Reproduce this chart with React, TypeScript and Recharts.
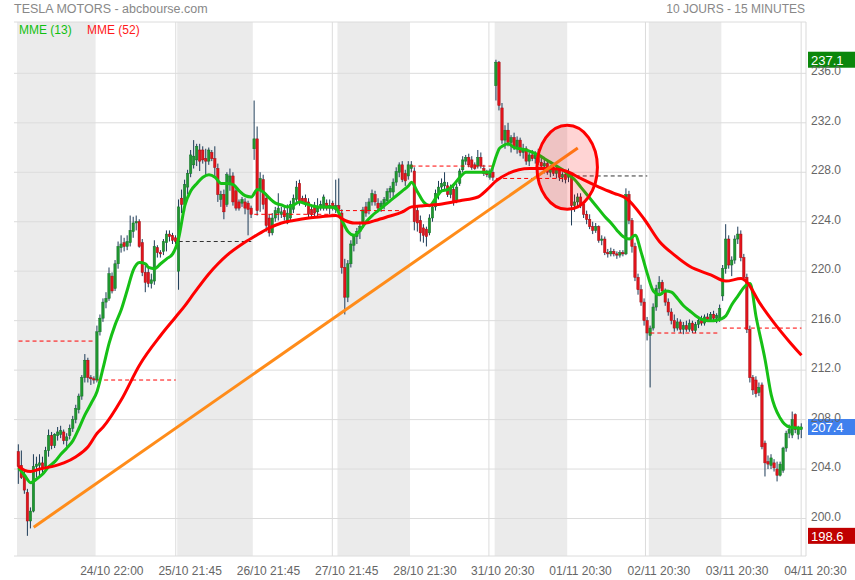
import React from 'react';
import { ComposedChart, Bar, Line, XAxis, YAxis, CartesianGrid, ReferenceArea, ReferenceLine } from 'recharts';

const FONT = '"Liberation Sans", Arial, sans-serif';

// OHLC per 15-minute bar, one array per trading day: [open, high, low, close]
const day1 = [
  [205.4, 206.0, 202.8, 204.2], [204.3, 205.5, 203.2, 203.3], [203.4, 203.9, 202.0, 202.3], [202.1, 202.4, 198.6, 199.8],
  [199.8, 200.9, 199.2, 200.6], [200.6, 205.2, 200.5, 204.2], [204.2, 205.0, 203.3, 204.4], [204.3, 205.2, 203.4, 204.5],
  [204.5, 205.0, 203.6, 204.1], [204.2, 205.8, 203.8, 205.5], [205.5, 207.2, 205.0, 206.7], [206.7, 207.0, 205.6, 205.9],
  [205.9, 206.9, 205.7, 206.8], [206.7, 207.4, 206.3, 207.0], [206.8, 207.5, 206.5, 207.1], [207.0, 207.2, 206.0, 206.3],
  [206.3, 206.9, 205.8, 206.6], [206.7, 207.6, 206.4, 207.3], [207.3, 208.3, 207.0, 208.0], [208.0, 209.2, 207.7, 208.9],
  [208.8, 210.1, 208.5, 209.9], [209.9, 211.6, 209.6, 211.4], [211.4, 213.3, 211.0, 212.8], [212.8, 213.0, 211.0, 211.4],
  [211.4, 211.6, 210.8, 211.3], [211.3, 211.5, 210.9, 211.2],
];
const day2 = [
  [211.2, 215.6, 211.0, 215.1], [215.1, 216.5, 214.8, 216.2], [216.2, 217.8, 215.9, 217.5], [217.5, 218.3, 217.0, 217.8],
  [217.8, 220.3, 217.6, 219.8], [219.6, 219.9, 218.2, 218.4], [218.6, 220.9, 218.4, 220.6], [220.6, 222.4, 220.2, 222.0],
  [221.9, 222.9, 221.5, 222.2], [222.3, 222.7, 221.6, 222.0], [222.0, 222.9, 221.7, 222.4], [222.3, 224.5, 222.0, 223.3],
  [223.2, 224.4, 222.7, 223.9], [223.9, 224.5, 223.3, 224.0], [224.0, 224.2, 221.9, 222.0], [222.3, 222.6, 219.6, 219.9],
  [219.9, 220.6, 218.3, 219.1], [219.9, 220.3, 218.7, 219.0], [219.0, 219.8, 218.6, 219.3], [219.2, 222.5, 218.9, 222.0],
  [221.9, 222.1, 221.1, 221.5], [221.5, 221.7, 221.1, 221.4], [221.6, 222.6, 221.3, 222.4], [222.3, 223.3, 221.6, 223.0],
  [223.0, 223.3, 222.4, 222.8], [222.9, 223.1, 222.2, 222.5], [222.7, 222.9, 222.2, 222.4],
];
const day3 = [
  [220.0, 225.8, 218.5, 225.2], [225.9, 226.6, 224.7, 225.4], [225.4, 227.4, 224.8, 227.0], [226.8, 228.2, 226.2, 227.9],
  [227.9, 229.8, 227.6, 229.4], [228.6, 230.6, 228.3, 229.3], [229.0, 230.3, 228.5, 230.1], [229.8, 230.3, 228.1, 228.9],
  [229.8, 230.1, 228.7, 229.0], [229.1, 229.9, 227.8, 228.9], [228.9, 230.0, 228.6, 229.8], [229.6, 229.8, 228.9, 229.1],
  [229.1, 230.1, 227.6, 228.4], [228.3, 228.7, 225.6, 226.2], [225.8, 226.5, 225.2, 226.2], [226.2, 226.6, 224.2, 224.8],
  [225.4, 228.0, 225.2, 227.8], [227.1, 228.3, 226.5, 227.7], [227.7, 228.0, 225.3, 225.6], [226.5, 226.9, 224.9, 225.1],
  [225.6, 225.8, 224.9, 225.1], [225.5, 226.0, 225.2, 225.8], [225.6, 225.9, 224.6, 225.1], [225.5, 225.7, 222.9, 225.0],
  [225.1, 225.3, 224.3, 224.6],
];
const day4 = [
  [229.9, 233.8, 229.0, 230.7], [230.7, 231.7, 224.5, 224.9], [226.6, 228.0, 224.8, 227.5], [227.4, 227.8, 225.0, 225.4],
  [225.9, 226.3, 223.2, 223.7], [224.3, 224.6, 222.8, 223.1], [223.1, 224.7, 222.9, 224.3], [224.3, 225.2, 224.0, 224.9],
  [224.7, 226.3, 224.1, 225.1], [224.6, 225.2, 224.3, 224.8], [224.9, 225.3, 224.1, 224.4], [223.9, 225.4, 223.8, 224.7],
  [224.3, 225.7, 224.0, 225.4], [225.0, 226.2, 224.7, 225.9], [225.8, 227.3, 225.6, 226.8], [227.1, 227.4, 225.3, 225.6],
  [225.9, 226.1, 225.5, 225.6], [225.9, 226.2, 225.2, 225.4], [225.6, 225.9, 224.3, 224.6], [225.0, 225.3, 224.4, 224.6],
  [225.2, 225.6, 224.4, 224.7], [224.8, 225.9, 224.4, 225.1], [225.1, 225.7, 224.9, 225.4], [225.1, 226.2, 224.9, 226.0],
  [225.5, 225.8, 224.9, 225.1], [225.1, 225.8, 224.6, 225.3], [225.5, 225.7, 224.9, 225.1], [225.0, 227.4, 224.7, 225.3],
];
const day5 = [
  [225.3, 227.5, 224.8, 225.0], [224.7, 225.0, 219.8, 220.3], [220.3, 221.0, 216.5, 217.9], [217.9, 220.9, 217.5, 220.6],
  [220.6, 222.5, 220.3, 222.2], [222.1, 223.0, 221.6, 222.8], [222.8, 223.5, 222.2, 223.2], [223.2, 224.0, 222.6, 223.6],
  [223.9, 225.2, 223.5, 224.95], [225.2, 225.6, 224.4, 224.7], [224.9, 225.9, 224.6, 225.6], [225.6, 226.6, 225.3, 226.3],
  [226.2, 226.5, 225.3, 225.6], [225.5, 225.9, 224.9, 225.1], [225.2, 225.7, 224.8, 225.5], [225.4, 226.0, 225.0, 225.8],
  [225.7, 226.7, 225.4, 226.45], [226.4, 226.9, 225.9, 226.7], [226.4, 227.5, 226.0, 227.2], [227.2, 228.4, 226.9, 228.05],
  [228.0, 228.8, 227.6, 228.6], [228.6, 228.9, 227.2, 227.4], [227.9, 228.2, 226.9, 227.3], [227.7, 228.9, 227.4, 228.6],
];
const day6 = [
  [228.3, 228.9, 228.0, 228.6], [228.1, 228.4, 223.3, 224.0], [224.9, 225.2, 223.2, 223.9], [224.1, 224.5, 222.4, 223.1],
  [223.5, 223.8, 222.3, 222.9], [223.4, 223.6, 222.0, 222.8], [223.1, 224.6, 222.9, 224.3], [224.3, 225.4, 224.0, 225.2],
  [225.2, 226.6, 224.9, 226.3], [226.3, 227.3, 225.8, 226.8], [226.8, 227.5, 226.5, 227.1], [226.9, 228.0, 226.6, 227.2],
  [226.9, 227.2, 226.0, 226.2], [226.2, 227.0, 225.9, 226.7], [226.6, 226.9, 225.3, 225.6], [225.7, 227.1, 225.5, 226.8],
  [227.1, 228.3, 226.9, 228.1], [228.2, 229.3, 228.0, 229.0], [228.9, 229.4, 228.6, 229.2], [229.2, 229.5, 228.4, 228.6],
  [229.0, 229.3, 228.2, 228.4], [228.6, 228.8, 228.2, 228.3], [228.5, 229.8, 228.3, 229.2], [229.2, 229.6, 228.3, 228.5],
  [228.3, 228.6, 227.7, 227.9], [227.9, 228.2, 227.6, 227.8], [227.6, 228.3, 227.4, 228.1], [228.0, 228.4, 227.3, 227.6],
];
const day7 = [
  [235.0, 237.1, 233.8, 236.9], [236.9, 237.0, 233.0, 233.4], [233.2, 233.6, 230.3, 230.6], [230.6, 231.8, 229.9, 231.4],
  [231.4, 232.0, 230.1, 230.4], [230.4, 231.0, 229.6, 230.8], [230.8, 231.2, 229.8, 230.0], [230.0, 230.9, 229.5, 230.6],
  [230.6, 230.8, 229.3, 229.6], [229.6, 230.3, 229.1, 229.9], [229.9, 230.1, 228.6, 228.9], [228.9, 229.6, 228.5, 229.4],
  [229.4, 229.8, 228.9, 229.1], [229.1, 229.7, 228.7, 229.5], [229.5, 229.9, 228.6, 228.8], [228.8, 229.2, 228.2, 228.5],
  [228.5, 229.0, 227.9, 228.7], [228.7, 229.0, 227.8, 228.0], [228.0, 228.6, 227.6, 228.4], [228.4, 228.7, 227.7, 227.9],
  [227.9, 228.5, 227.5, 228.2], [228.2, 228.4, 227.3, 227.6], [227.6, 228.0, 227.2, 227.8], [227.8, 228.1, 227.1, 227.4],
];
const day8 = [
  [227.6, 228.3, 227.2, 227.9], [227.9, 228.0, 223.7, 225.3], [225.3, 226.2, 224.8, 225.6], [225.6, 226.3, 225.2, 226.0],
  [226.0, 226.3, 225.1, 225.4], [225.4, 225.6, 224.3, 224.6], [224.6, 224.9, 223.8, 224.2], [224.2, 224.6, 223.4, 223.6],
  [223.6, 224.0, 223.0, 223.3], [223.3, 223.9, 223.1, 223.6], [223.6, 223.7, 222.3, 222.5], [222.5, 222.9, 222.1, 222.6],
  [222.6, 222.8, 221.3, 221.5], [221.5, 221.8, 221.1, 221.4], [221.4, 221.9, 221.2, 221.6], [221.6, 221.8, 221.2, 221.4],
  [221.4, 221.6, 221.0, 221.3], [221.3, 221.7, 221.1, 221.5], [221.5, 221.7, 221.2, 221.4], [221.4, 226.7, 221.3, 226.2],
  [226.2, 226.5, 223.8, 224.1], [224.1, 224.3, 221.5, 222.0], [222.0, 222.3, 219.2, 219.5], [219.5, 219.8, 218.1, 218.5],
  [218.5, 218.9, 217.2, 217.5], [217.5, 217.8, 215.6, 216.0], [216.0, 216.3, 214.4, 215.0],
];
const day9 = [
  [214.8, 215.6, 210.6, 215.4], [215.4, 217.4, 215.2, 217.1], [217.1, 218.9, 216.8, 218.6], [218.6, 219.6, 218.2, 219.1],
  [219.1, 219.3, 218.1, 218.4], [218.4, 218.6, 217.2, 217.5], [217.5, 217.8, 216.4, 216.7], [216.7, 217.0, 215.7, 216.0],
  [216.0, 216.5, 215.1, 215.4], [215.4, 216.2, 215.2, 215.9], [215.9, 216.1, 215.0, 215.3], [215.3, 215.9, 214.9, 215.6],
  [215.6, 216.0, 215.1, 215.3], [215.3, 216.1, 215.1, 215.8], [215.8, 216.0, 215.0, 215.2], [215.2, 215.9, 215.0, 215.7],
  [215.7, 216.2, 215.4, 216.0], [216.0, 216.4, 215.6, 215.8], [215.8, 216.5, 215.6, 216.3], [216.3, 216.6, 215.9, 216.1],
  [216.1, 216.7, 215.9, 216.5], [216.5, 216.8, 216.0, 216.2], [216.2, 216.6, 215.8, 216.4], [216.1, 217.3, 215.9, 217.0],
];
const day10 = [
  [218.0, 220.5, 217.6, 220.2], [220.2, 223.8, 219.8, 222.6], [222.6, 222.9, 220.2, 220.5], [220.5, 221.2, 219.6, 220.9],
  [220.9, 222.9, 220.6, 222.6], [222.6, 223.6, 222.2, 223.0], [223.0, 223.3, 220.8, 221.1], [221.1, 221.4, 219.2, 219.5],
  [219.5, 219.8, 215.0, 215.3], [215.3, 215.6, 211.0, 211.4], [211.4, 211.6, 210.0, 210.4], [211.2, 211.5, 209.8, 210.1],
  [210.2, 211.0, 209.9, 210.6], [210.8, 211.0, 205.6, 205.8], [206.1, 206.3, 203.4, 204.5], [204.6, 205.1, 204.0, 204.4],
  [204.3, 205.2, 204.0, 204.9], [204.5, 204.8, 203.8, 204.1], [204.0, 204.6, 203.0, 203.5], [203.5, 204.6, 203.4, 204.4],
  [203.9, 205.8, 203.7, 205.7], [205.7, 207.1, 205.4, 206.9], [206.9, 207.6, 206.5, 207.2], [206.75, 208.65, 206.5, 208.0],
  [208.4, 208.5, 206.9, 207.2], [206.8, 207.5, 206.4, 207.3], [207.2, 207.7, 206.5, 207.4],
];
const dayBars = [day1, day2, day3, day4, day5, day6, day7, day8, day9, day10];

// Previous-close reference level drawn on each day
const prevClose = [214.35, 211.2, 222.4, 224.6, 224.9, 228.5, 227.5, 227.7, 215.0, 215.4];
const prevCloseColor = ['#ff0000', '#ff0000', '#333333', '#ff0000', '#ff0000', '#ff0000', '#ff0000', '#333333', '#ff0000', '#ff0000'];

// Moving averages: [bar slot, value]
const ema13Points = [
  [1, 204.1], [3, 203.5], [5, 202.9], [7, 203.2], [9, 203.6], [11, 204.2], [13, 204.6], [15, 205.2], [17, 205.7],
  [19, 206.3], [21, 207.3], [23, 208.4], [25, 209.3], [27, 210.3], [29, 212.2], [31, 214.2], [33, 215.7], [35, 216.9],
  [37, 218.5], [39, 220.1], [41, 220.7], [43, 220.6], [44, 220.3], [46, 220.2], [48, 220.6], [50, 221.0], [52, 221.4],
  [54, 222.7], [56, 225.3], [58, 226.5], [60, 227.1], [62, 227.6], [64, 227.8], [66, 227.6], [68, 227.1], [70, 227.1],
  [72, 227.0], [74, 226.5], [76, 226.1], [78, 226.0], [80, 226.6], [82, 226.4], [84, 225.9], [86, 225.5], [88, 225.35],
  [90, 225.2], [92, 225.35], [94, 225.6], [96, 225.45], [98, 225.3], [100, 225.2], [102, 225.2], [104, 225.2],
  [106, 225.1], [108, 224.1], [110, 223.2], [112, 222.9], [114, 223.3], [116, 224.0], [118, 224.5], [120, 224.9],
  [122, 225.3], [124, 225.7], [126, 226.1], [128, 226.5], [130, 226.9], [131, 227.2], [133, 226.4], [135, 225.6],
  [137, 225.3], [139, 225.9], [141, 226.5], [143, 226.6], [145, 227.0], [147, 227.6], [149, 228.0], [151, 228.0],
  [153, 228.0], [155, 228.0], [157, 228.0], [159, 229.3], [160, 229.9], [161, 230.1], [163, 230.3], [165, 230.0],
  [167, 229.9], [169, 229.8], [171, 229.6], [173, 229.4], [175, 229.1], [177, 228.8], [179, 228.5], [181, 228.2],
  [183, 227.8], [185, 227.4], [187, 226.8], [189, 226.2], [191, 225.6], [193, 225.0], [195, 224.4], [197, 223.9],
  [199, 223.3], [201, 222.8], [203, 222.6], [205, 222.9], [207, 221.5], [209, 219.8], [211, 218.4], [213, 218.1],
  [215, 218.4], [217, 218.3], [219, 217.8], [221, 217.2], [223, 216.8], [225, 216.4], [227, 216.1], [229, 216.0],
  [231, 216.0], [233, 216.1], [235, 216.4], [237, 217.3], [239, 218.0], [241, 218.7], [243, 219.0], [245, 216.3],
  [248, 212.8], [250, 210.0], [253, 208.1], [256, 207.4], [260, 207.3],
];
const ema52Points = [
  [1, 204.2], [3, 203.9], [5, 203.8], [8, 204.0], [12, 204.2], [16, 204.5], [20, 205.0], [24, 205.8], [27, 206.9],
  [29, 207.4], [35, 209.6], [41, 212.4], [48, 214.8], [53, 216.3], [56, 217.2], [59, 218.2], [64, 219.8], [67, 220.6],
  [70, 221.3], [75, 222.2], [79, 222.8], [84, 223.5], [88, 223.9], [92, 224.1], [97, 224.3], [101, 224.4], [106, 224.5],
  [109, 224.1], [112, 223.9], [116, 223.9], [119, 224.1], [123, 224.4], [128, 224.8], [131, 225.2], [135, 225.3],
  [140, 225.4], [147, 225.7], [153, 226.0], [156, 226.6], [159, 227.3], [163, 227.9], [170, 228.3], [177, 228.3],
  [182, 228.1], [187, 227.5], [193, 226.8], [198, 226.3], [202, 225.9], [208, 224.2], [213, 222.4], [218, 221.3],
  [223, 220.4], [230, 219.7], [235, 219.2], [240, 219.4], [242, 219.1], [246, 217.5], [251, 215.8], [256, 214.3],
  [260, 213.2],
];

const trendLine = [{ slot: 6, value: 199.3 }, { slot: 186, value: 229.96 }];
const highlight = { x1: 173, x2: 192, y1: 225.0, y2: 231.8 };
const badges = [
  { value: 237.1, color: '#0b870b' },
  { value: 207.4, color: '#3f80ee' },
  { value: 198.6, color: '#c00000' },
];
const yTicks = [200, 204, 208, 212, 216, 220, 224, 228, 232, 236];
const xLabels = ['24/10 22:00', '25/10 21:45', '26/10 21:45', '27/10 21:45', '28/10 21:30', '31/10 20:30', '01/11 20:30', '02/11 20:30', '03/11 20:30', '04/11 20:30'];
const xLabelTicks = [21.8, 47.6, 73.4, 99.2, 125.0, 150.6, 176.4, 202.2, 228.0, 253.8];
const gridX = [53.3, 104.9, 156.5, 208.1, 259.4];

const SLOT_COUNT = 262;
const Y_MIN = 196.97;
const Y_MAX = 240.15;
const PLOT_BOTTOM = 556;

type Row = { i: number; o?: number; h?: number; l?: number; c?: number; ema13?: number; ema52?: number };
const data: Row[] = Array.from({ length: SLOT_COUNT }, (_, i) => ({ i }));
const dayRanges: [number, number][] = [];
let cursor = 1;
dayBars.forEach((bars) => {
  const start = cursor;
  bars.forEach(([o, h, l, c]) => {
    Object.assign(data[cursor], { o, h, l, c });
    cursor++;
  });
  dayRanges.push([start, cursor - 1]);
});
ema13Points.forEach(([s, v]) => { data[s].ema13 = v; });
ema52Points.forEach(([s, v]) => { data[s].ema52 = v; });

const Candle = (props: any) => {
  const { x, y, width, height, payload } = props;
  if (!payload || payload.h == null || x == null) return <g />;
  const { o, h, l, c } = payload;
  const top = Math.min(y, y + height);
  const hgt = Math.abs(height);
  const k = h > l ? hgt / (h - l) : 0;
  const cx = x + width / 2;
  const yO = top + (h - o) * k;
  const yC = top + (h - c) * k;
  const up = c >= o;
  const bTop = Math.min(yO, yC);
  const bH = Math.max(Math.abs(yO - yC), 1);
  return (
    <g>
      <line x1={cx} x2={cx} y1={top} y2={top + hgt} stroke="#1d3b57" strokeWidth={1} />
      <rect x={cx - 1.2} y={bTop} width={2.4} height={bH} fill={up ? '#1f982f' : '#e3141c'} stroke={up ? '#15702a' : '#a30d12'} strokeWidth={0.5} />
    </g>
  );
};

const YTick = (props: any) => {
  const { y, payload } = props;
  return (
    <text x={811} y={y + 2} fill="#666" fontSize={12} fontFamily={FONT} textAnchor="start">
      {Number(payload.value).toFixed(1)}
    </text>
  );
};

const XTick = (props: any) => {
  const { x, index } = props;
  return (
    <text x={x} y={PLOT_BOTTOM + 19} fill="#666" fontSize={12} fontFamily={FONT} textAnchor="start">
      {xLabels[index]}
    </text>
  );
};

const badgeLabel = (b: { value: number; color: string }) => (props: any) => {
  const vb = props.viewBox || {};
  const bx = (vb.x ?? 0) + (vb.width ?? 0) + 2;
  const by = vb.y ?? 0;
  return (
    <g>
      <rect x={bx} y={by - 8} width={47} height={16} fill={b.color} />
      <text x={bx + 3} y={by + 5} fill="#fff" fontSize={13} fontFamily={FONT}>{b.value.toFixed(1)}</text>
    </g>
  );
};

const Ellipse = (p: any) => (
  <ellipse cx={p.x + p.width / 2} cy={p.y + p.height / 2} rx={p.width / 2} ry={p.height / 2}
    fill="#ff0000" fillOpacity={0.17} stroke="#ff0000" strokeWidth={3} />
);

export default function App() {
  return (
    <div style={{ position: 'absolute', left: 0, top: 0, width: 855, height: 580, background: '#fff', fontFamily: FONT }}>
      <ComposedChart width={855} height={580} data={data} margin={{ top: 22, right: 0, left: 14, bottom: 0 }}>
        <XAxis dataKey="i" type="category" hide />
        <XAxis xAxisId="lbl" type="number" domain={[0, SLOT_COUNT]} ticks={xLabelTicks} interval={0}
          tick={<XTick />} tickLine={false} height={24}
          axisLine={{ stroke: '#d9d9d9' }} allowDataOverflow />
        <YAxis orientation="right" width={49} domain={[Y_MIN, Y_MAX]} ticks={yTicks} allowDataOverflow interval={0}
          tick={<YTick />} tickLine={false} axisLine={{ stroke: '#d9d9d9' }} />
        {dayRanges.map(([a, b], d) => d % 2 === 0 ? (
          <ReferenceArea key={'sh' + d} x1={a} x2={b} fill="#ebebeb" fillOpacity={1} stroke="none" ifOverflow="visible" zIndex={-200} />
        ) : null)}
        <CartesianGrid vertical={false} stroke="#dcdcdc" />
        {gridX.map((g) => (
          <ReferenceLine key={'gx' + g} xAxisId="lbl" x={g} stroke="#dcdcdc" strokeWidth={1} zIndex={-100} />
        ))}
        <ReferenceArea xAxisId="lbl" x1={0} x2={SLOT_COUNT} y1={Y_MIN} y2={Y_MAX} fill="none" stroke="#d9d9d9" zIndex={-100} />
        {dayRanges.map(([a, b], d) => (
          <ReferenceLine key={'pc' + d} segment={[{ x: a, y: prevClose[d] }, { x: b, y: prevClose[d] }]}
            stroke={prevCloseColor[d]} strokeDasharray="4 3" strokeWidth={1} />
        ))}
        <Bar dataKey={(d: Row) => (d.h == null ? null : [d.l, d.h])} shape={Candle} isAnimationActive={false} />
        <Line dataKey="ema13" stroke="#16c016" strokeWidth={3} dot={false} connectNulls type="monotone" isAnimationActive={false} />
        <Line dataKey="ema52" stroke="#ff0000" strokeWidth={3} dot={false} connectNulls type="monotone" isAnimationActive={false} />
        <ReferenceLine segment={[{ x: trendLine[0].slot, y: trendLine[0].value }, { x: trendLine[1].slot, y: trendLine[1].value }]}
          stroke="#ff8c1a" strokeWidth={3} zIndex={1000} />
        <ReferenceArea x1={highlight.x1} x2={highlight.x2} y1={highlight.y1} y2={highlight.y2} shape={Ellipse} zIndex={1000} />
        {badges.map((b) => (
          <ReferenceLine key={'bd' + b.value} y={b.value} stroke="#000" strokeOpacity={0} ifOverflow="visible" label={badgeLabel(b)} zIndex={1000} />
        ))}
      </ComposedChart>
      <svg width={855} height={580} style={{ position: 'absolute', left: 0, top: 0, pointerEvents: 'none' }}>
        <text x={14} y={12.5} fill="#888" fontSize={12.5} fontFamily={FONT}>TESLA MOTORS - abcbourse.com</text>
        <text x={805} y={12.5} fill="#888" fontSize={12} fontFamily={FONT} textAnchor="end">10 JOURS - 15 MINUTES</text>
        <text x={19} y={34} fill="#10c010" fontSize={12} fontFamily={FONT}>MME (13)</text>
        <text x={87} y={34} fill="#ff1a1a" fontSize={12} fontFamily={FONT}>MME (52)</text>
      </svg>
    </div>
  );
}
